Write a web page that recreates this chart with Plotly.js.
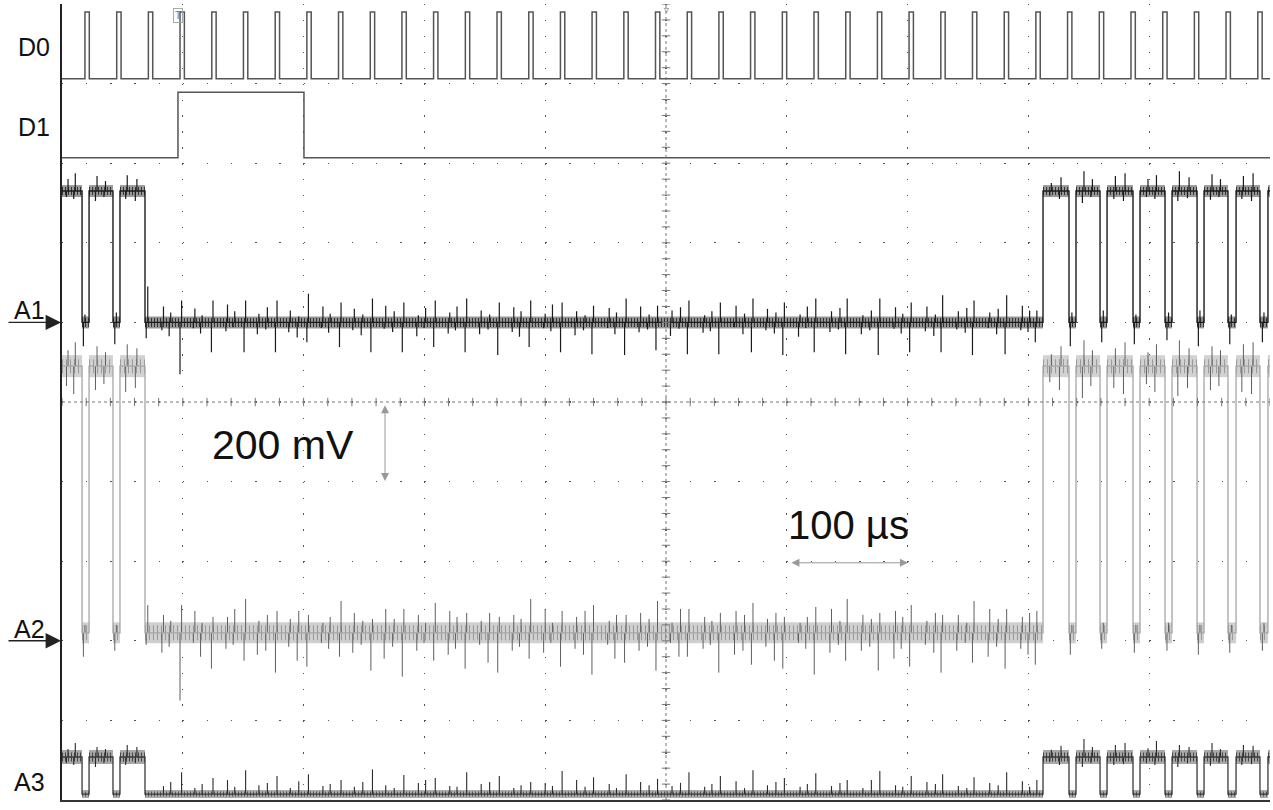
<!DOCTYPE html>
<html><head><meta charset="utf-8">
<script src="https://cdn.plot.ly/plotly-3.0.1.min.js"></script>
<style>html,body{margin:0;padding:0;background:#fff;} #chart{width:1273px;height:810px;}</style>
</head><body><div id="chart"></div>
<script>
// ================= DATA (time in µs, amplitude in mV) =================
// D0 clock: rising edges
const clockRise = [19.0, 45.3, 71.5, 97.7, 124.0, 150.2, 176.5, 202.7, 228.9, 255.2, 281.4, 307.6, 333.9, 360.1, 386.4, 412.6, 438.8, 465.1, 491.3, 517.6, 543.8, 570.0, 596.3, 622.5, 648.8, 675.0, 701.2, 727.5, 753.7, 780.0, 806.2, 832.4, 858.7, 884.9, 911.2, 937.4, 963.6, 989.9];
const clockWidth = 3.6;
// D1: rise, fall
const d1Edges = [96.0, 200.3];
// analog channels: transitions (start high, toggles at each edge)
const burstEdges = [16.6, 22.4, 42.2, 48.0, 68.7, 812.1, 833.6, 839.4, 859.3, 865.1, 886.6, 892.4, 913.1, 918.9, 939.6, 945.4, 965.2, 971.9, 991.7, 998.3];

// levels (mV)
const a1High = 330, a1Low = 0;
const a2High = 690, a2Low = 20;
const a3High = 108, a3Low = 15;

// spike times (µs)
const quietT = [99, 125, 152, 178, 204, 231, 257, 283, 309, 335, 362, 388, 414, 440, 467, 493, 519, 545, 572, 598, 624, 650, 677, 703, 729, 755, 782, 807];
const minorT = [84, 90, 110, 116, 137, 143, 163, 170, 189, 196, 216, 222, 242, 249, 268, 275, 295, 301, 321, 327, 347, 354, 374, 380, 400, 406, 426, 433, 453, 459, 479, 486, 505, 512, 532, 538, 558, 565, 584, 591, 611, 617, 637, 644, 663, 670, 690, 696, 716, 723, 742, 749, 768, 775, 795, 801];
const burstT = [5, 11, 29, 36, 54, 62, 819, 827, 846, 853, 872, 880, 899, 906, 925, 933, 952, 959, 978, 986];
const dipT = [19, 45, 71, 836, 862, 889, 916, 942, 968, 995];

// A1 spike amplitudes (mV)
const a1QuietUp = [55,55,55,55,72,50,60,50,55,60,50,55,50,42,60,42,55,50,60,50,60,60,60,50,68,55,68,30];
const a1QuietDn = [130,75,75,75,50,62,75,75,62,75,82,62,75,80,82,70,80,80,75,82,75,80,82,75,75,82,80,50];
const a1MinorUp = [40,25,35,18,45,28,22,38,30,15,40,22,34,20,42,28,18,36,25,40,30,20,38,28,22,45,28,18,36,25,40,20,30,38,18,28,42,22,34,25,20,40,28,36,18,30,38,22,40,20,28,36,25,34,42,30];
const a1MinorDn = [20,35,15,28,22,12,30,18,25,38,14,26,20,32,16,24,35,14,28,20,30,18,24,36,15,22,32,20,14,30,25,18,34,16,26,22,12,30,20,28,36,14,24,18,30,20,16,28,22,34,18,26,14,30,20,24];
const a1BurstUp = [30,45,38,25,40,30,20,35,50,30,38,45,30,40,50,35,42,30,38,45];
const a1BurstDn = [15,20,25,15,20,25,12,20,30,15,20,25,15,20,25,18,22,15,20,25];
const a1DipUp = [20,25,90,25,30,20,25,30,20,25];
const a1DipDn = [60,55,40,60,50,55,45,60,55,50];

// A2 spike amplitudes (mV)
const a2QuietUp = [70,40,85,55,45,80,35,60,75,50,40,85,55,70,45,80,60,50,75,40,65,85,50,70,45,80,60,55];
const a2QuietDn = [170,90,70,100,85,60,95,110,70,90,100,65,85,105,75,95,60,100,80,90,105,70,95,85,100,75,90,80];
const a2MinorUp = [45,30,55,25,40,60,30,45,35,55,25,40,50,30,60,35,45,25,55,40,30,50,45,35,60,25,40,55,30,45,50,35,25,60,40,30,55,45,35,50,25,40,60,30,45,35,55,40,30,50,45,25,60,35,40,50];
const a2MinorDn = [50,35,25,60,40,30,55,45,35,70,25,40,50,30,65,35,45,25,55,40,30,75,45,35,50,25,40,55,30,65,45,35,25,60,40,30,55,45,35,70,25,40,50,30,45,35,65,40,30,50,45,25,60,35,40,55];
const a2BurstUp = [40,60,50,35,55,45,30,50,65,40,45,60,35,55,65,45,50,40,55,60];
const a2BurstDn = [50,70,60,45,65,55,40,60,80,50,55,70,45,65,75,55,60,50,65,70];
const a2DipUp = [20,20,70,20,25,20,25,20,20,25];
const a2DipDn = [60,45,30,55,40,50,45,55,50,45];

// A3 spike amplitudes (mV)
const a3QuietUp = [55,40,60,45,50,35,62,48,40,55,45,30,58,42,50,38,55,45,60,40,52,35,58,45,50,42,55,35];
const a3MinorUp = [20,30,15,25,35,18,22,28,15,32,20,25,18,30,22,15,28,35,20,18,25,30,15,22,28,20,35,18,25,15,30,22,20,28,18,25,32,15,22,30,18,25,20,28,15,35,22,18,30,25,20,15,28,22,32,18];
const a3BurstUp = [20,35,25,20,30,25,18,28,45,25,30,35,22,40,30,25,35,20,30,28];
const a3BurstDn = [15,20,25,15,20,15,12,20,25,15,20,18,15,20,25,15,22,15,20,18];

// ================= DISPLAY SETTINGS =================
const VDIV = 200;           // mV per division
const T_END = 1000;         // µs across screen
const A1_POS = 6.0, A2_POS = 2.0, A3_POS = 0.0;   // ground position (div)
const D0_LO = 9.06, D0_HI = 9.9, D1_LO = 8.07, D1_HI = 8.89;
const FONT = '"Liberation Sans", Arial, sans-serif';

// ================= BUILD =================
function toDiv(pos, mv){ return pos + mv / VDIV; }
function stateAt(t){ let n = 0; for (const e of burstEdges) if (e <= t) n++; return n % 2 === 0; }

function mainTrace(pos, hi, lo, color, width){
  const x = [0], y = [toDiv(pos, hi)];
  let high = true;
  for (const e of burstEdges){
    x.push(e); y.push(toDiv(pos, high ? hi : lo));
    high = !high;
    x.push(e); y.push(toDiv(pos, high ? hi : lo));
  }
  x.push(T_END); y.push(toDiv(pos, high ? hi : lo));
  return {x, y, mode:'lines', line:{color, width}, hoverinfo:'skip'};
}
function bandTrace(pos, hi, lo, color, width, useHigh, dash){
  const x = [], y = [];
  const bounds = [0, ...burstEdges, T_END];
  for (let i = 0; i < bounds.length - 1; i++){
    const high = i % 2 === 0;
    if (high !== useHigh) continue;
    const lv = toDiv(pos, high ? hi : lo);
    x.push(bounds[i], bounds[i+1], null); y.push(lv, lv, null);
  }
  const line = {color, width};
  if (dash) line.dash = dash;
  return {x, y, mode:'lines', line, hoverinfo:'skip'};
}
function spikeTrace(pos, hi, lo, groups, color, width){
  const x = [], y = [];
  for (const g of groups){
    g.t.forEach((t, i) => {
      const base = stateAt(t) ? hi : lo;
      if (g.up && g.up[i]){ x.push(t, t, null); y.push(toDiv(pos, base), toDiv(pos, base + g.up[i]), null); }
      if (g.dn && g.dn[i]){ const tt = t - 1.3; x.push(tt, tt, null); y.push(toDiv(pos, base), toDiv(pos, base - g.dn[i]), null); }
    });
  }
  return {x, y, mode:'lines', line:{color, width}, hoverinfo:'skip'};
}

const traces = [];
// A2 (light)
traces.push(bandTrace(A2_POS, a2High, a2Low, '#d2d2d2', 22, true));
traces.push(bandTrace(A2_POS, a2High, a2Low, '#d0d0d0', 21, false));
traces.push(bandTrace(A2_POS, a2High, a2Low, '#9a9a9a', 14, true, '1px,3px'));
traces.push(bandTrace(A2_POS, a2High, a2Low, '#9a9a9a', 15, false, '1px,3px'));
traces.push(spikeTrace(A2_POS, a2High, a2Low, [
  {t:quietT, up:a2QuietUp, dn:a2QuietDn}, {t:minorT, up:a2MinorUp, dn:a2MinorDn},
  {t:burstT, up:a2BurstUp, dn:a2BurstDn}, {t:dipT, up:a2DipUp, dn:a2DipDn}], '#5e5e5e', 1));
traces.push(mainTrace(A2_POS, a2High, a2Low, '#a6a6a6', 1.3));
// A1 (dark)
traces.push(bandTrace(A1_POS, a1High, a1Low, '#9a9a9a', 12, true));
traces.push(bandTrace(A1_POS, a1High, a1Low, '#959595', 12, false));
traces.push(bandTrace(A1_POS, a1High, a1Low, '#333', 8, true, '1px,2px'));
traces.push(bandTrace(A1_POS, a1High, a1Low, '#333', 9, false, '1px,2px'));
traces.push(spikeTrace(A1_POS, a1High, a1Low, [
  {t:quietT, up:a1QuietUp, dn:a1QuietDn}, {t:minorT, up:a1MinorUp, dn:a1MinorDn},
  {t:burstT, up:a1BurstUp, dn:a1BurstDn}, {t:dipT, up:a1DipUp, dn:a1DipDn}], '#1a1a1a', 1.2));
traces.push(mainTrace(A1_POS, a1High, a1Low, '#1c1c1c', 1.4));
// A3
traces.push(bandTrace(A3_POS, a3High, a3Low, '#a8a8a8', 14, true));
traces.push(bandTrace(A3_POS, a3High, a3Low, '#ababab', 8, false));
traces.push(bandTrace(A3_POS, a3High, a3Low, '#444', 9, true, '1px,2px'));
traces.push(bandTrace(A3_POS, a3High, a3Low, '#555', 5, false, '1px,2px'));
traces.push(spikeTrace(A3_POS, a3High, a3Low, [
  {t:quietT, up:a3QuietUp}, {t:minorT, up:a3MinorUp},
  {t:burstT, up:a3BurstUp, dn:a3BurstDn}], '#2a2a2a', 1.1));
traces.push(mainTrace(A3_POS, a3High, a3Low, '#3a3a3a', 1.3));

// D0
(function(){
  const x = [0], y = [D0_LO];
  for (const t of clockRise){ x.push(t, t + clockWidth); y.push(D0_HI, D0_LO); }
  x.push(T_END); y.push(D0_LO);
  traces.push({x, y, mode:'lines', line:{color:'#555', width:1.5, shape:'hv'}, hoverinfo:'skip'});
})();
// D1
traces.push({x:[0, d1Edges[0], d1Edges[1], T_END], y:[D1_LO, D1_HI, D1_LO, D1_LO], mode:'lines', line:{color:'#555', width:1.5, shape:'hv'}, hoverinfo:'skip'});

// centre cross ticks
(function(){
  const hx = [], hy = [], vx = [], vy = [];
  for (let t = 0; t <= T_END; t += 20){ hx.push(t); hy.push(5); }
  for (let d = 0; d <= 10.001; d += 0.2){ vx.push(500); vy.push(d); }
  traces.push({x:hx, y:hy, mode:'markers', marker:{symbol:'line-ns', size:6, line:{color:'#777', width:1}}, hoverinfo:'skip'});
  traces.push({x:vx, y:vy, mode:'markers', marker:{symbol:'line-ew', size:6, line:{color:'#777', width:1}}, hoverinfo:'skip'});
})();

const pxX = px => (px - 62) / 1208;   // paper x for labels left of the grid
const labelFont = {family: FONT, size: 25, color: '#111'};
const lab = (px, y, text) => ({xref:'paper', yref:'y', x:pxX(px), y, xanchor:'center', yanchor:'middle', text, showarrow:false, font:labelFont});
const arr = (y) => ({xref:'paper', yref:'y', x:pxX(61), y, text:'', showarrow:true, ax:-54, ay:0, arrowhead:2, arrowsize:2.2, arrowwidth:1.4, arrowcolor:'#222'});
const annotations = [
  lab(34, 9.46, 'D0'), lab(34, 8.46, 'D1'),
  lab(29, 6.15, 'A1'), lab(29, 2.15, 'A2'), lab(29, 0.23, 'A3'),
  arr(A1_POS), arr(A2_POS), arr(-0.03),
  {xref:'x', yref:'y', x:183, y:4.46, text:'200 mV', showarrow:false, font:{family:FONT, size:41, color:'#111'}},
  {xref:'x', yref:'y', x:651, y:3.45, text:'100 µs', showarrow:false, font:{family:FONT, size:40, color:'#111'}},
  {xref:'x', yref:'y', axref:'x', ayref:'y', x:267.4, y:4.96, ax:267.4, ay:3.99, text:'', showarrow:true, arrowside:'end+start', arrowhead:2, arrowsize:1.6, arrowwidth:1, arrowcolor:'#999'},
  {xref:'x', yref:'y', axref:'x', ayref:'y', x:700.3, y:2.98, ax:602.6, ay:2.98, text:'', showarrow:true, arrowside:'end+start', arrowhead:2, arrowsize:1.6, arrowwidth:1, arrowcolor:'#999'},
  {xref:'x', yref:'y', x:96, y:9.85, text:'T', showarrow:false, font:{family:FONT, size:10, color:'#777'}, bordercolor:'#aaa', borderwidth:1, borderpad:1},
  {xref:'x', yref:'y', x:500, y:9.93, text:'▿', showarrow:false, font:{family:FONT, size:10, color:'#777'}}
];

const layout = {
  width:1273, height:810,
  margin:{l:62, r:3, t:4, b:10},
  paper_bgcolor:'#fff', plot_bgcolor:'#fff',
  showlegend:false,
  xaxis:{range:[0, T_END], tick0:0, dtick:100, showticklabels:false, ticks:'', showgrid:true,
         gridcolor:'#555', gridwidth:1.3, griddash:'1.3px,14.62px', zeroline:false,
         showline:true, linecolor:'#333', linewidth:1.5, fixedrange:true},
  yaxis:{range:[0, 10], tick0:0, dtick:1, showticklabels:false, ticks:'', showgrid:true,
         gridcolor:'#555', gridwidth:1.3, griddash:'1.3px,22.86px', zeroline:false,
         showline:true, linecolor:'#222', linewidth:2, fixedrange:true},
  shapes:[
    {type:'line', xref:'x', yref:'y', x0:500, x1:500, y0:0, y1:10, line:{color:'#777', width:1, dash:'dot'}},
    {type:'line', xref:'x', yref:'y', x0:0, x1:T_END, y0:5, y1:5, line:{color:'#777', width:1, dash:'dot'}}
  ],
  annotations
};

Plotly.newPlot('chart', traces, layout, {staticPlot:true, displayModeBar:false});
</script>
</body></html>
